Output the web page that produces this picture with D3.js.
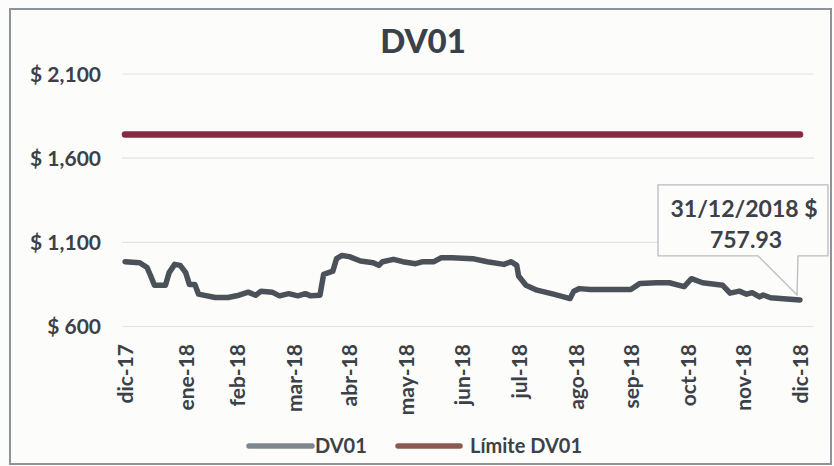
<!DOCTYPE html>
<html>
<head>
<meta charset="utf-8">
<script src="https://cdn.jsdelivr.net/npm/d3@7"></script>
<style>
  html, body { margin: 0; padding: 0; background: #fcfcfa; }
  svg { display: block; }
  text { font-family: Lato, "Open Sans", sans-serif; font-weight: bold; fill: #3b4148; }
</style>
</head>
<body>
<svg id="chart" width="834" height="466"></svg>
<script>
// ---------- data ----------
const dv01Dates = [
  "2017-12-29","2018-01-06","2018-01-10","2018-01-12","2018-01-14","2018-01-20","2018-01-22","2018-01-25","2018-01-28","2018-01-31",
  "2018-02-02","2018-02-05","2018-02-07","2018-02-16","2018-02-23","2018-03-01","2018-03-06","2018-03-10","2018-03-13","2018-03-19",
  "2018-03-23","2018-03-28","2018-04-02","2018-04-06","2018-04-09","2018-04-14","2018-04-16","2018-04-21","2018-04-23","2018-04-26",
  "2018-04-30","2018-05-06","2018-05-13","2018-05-16","2018-05-18","2018-05-24","2018-05-29","2018-06-05","2018-06-09","2018-06-15",
  "2018-06-19","2018-06-25","2018-07-06","2018-07-14","2018-07-23","2018-07-27","2018-07-30","2018-07-31","2018-08-04","2018-08-10",
  "2018-08-19","2018-08-28","2018-08-30","2018-09-02","2018-09-08","2018-09-19","2018-09-30","2018-10-05","2018-10-14","2018-10-21",
  "2018-10-29","2018-11-02","2018-11-08","2018-11-19","2018-11-23","2018-11-28","2018-12-02","2018-12-05","2018-12-09","2018-12-11",
  "2018-12-15","2018-12-22","2018-12-31"
];
const dv01Values = [
  985, 979, 950, 900, 845, 845, 920, 969, 963, 920,
  850, 850, 792, 772, 772, 786, 804, 786, 810, 804,
  782, 795, 782, 795, 782, 786, 910, 929, 1003, 1022,
  1015, 989, 979, 963, 985, 999, 985, 973, 985, 985,
  1009, 1009, 1003, 985, 969, 985, 963, 900, 845, 816,
  792, 766, 810, 825, 820, 820, 820, 856, 860, 860,
  837, 884, 860, 845, 798, 810, 792, 801, 776, 787,
  771, 765, 757.93
];
const limitDates = ["2017-12-29", "2018-12-31"];
const limitValues = [1740, 1740];

const yTicks = [600, 1100, 1600, 2100];
const xTickDates = ["2017-12-29","2018-01-31","2018-02-28","2018-03-31","2018-04-30","2018-05-31","2018-06-30",
                    "2018-07-31","2018-08-31","2018-09-30","2018-10-31","2018-11-30","2018-12-31"];
const xTickLabels = ["dic-17","ene-18","feb-18","mar-18","abr-18","may-18","jun-18",
                     "jul-18","ago-18","sep-18","oct-18","nov-18","dic-18"];
const seriesNames = ["DV01", "Límite DV01"];
const chartTitle = "DV01";
const calloutLines = ["31/12/2018 $", "757.93"];

// ---------- drawing ----------
const parse = d3.timeParse("%Y-%m-%d");
const svg = d3.select("#chart");

const x = d3.scaleTime()
  .domain([parse("2017-12-29"), parse("2018-12-31")])
  .range([125, 800]);
const y = d3.scaleLinear().domain([600, 2100]).range([326.5, 74]);

// frame
svg.append("rect").attr("x", 10).attr("y", 9).attr("width", 821).attr("height", 455)
  .attr("fill", "#fcfcfa").attr("stroke", "#8d9399").attr("stroke-width", 2);

// gridlines
svg.append("g").selectAll("line").data(yTicks).join("line")
  .attr("x1", 122).attr("x2", 814)
  .attr("y1", d => y(d)).attr("y2", d => y(d))
  .attr("stroke", "#e3e3e3").attr("stroke-width", 1.2);

// y axis
const yAxis = d3.axisLeft(y).tickValues(yTicks).tickSize(0).tickPadding(0)
  .tickFormat(d => "$ " + d3.format(",")(d));
const gy = svg.append("g").attr("transform", "translate(101,0)").call(yAxis);
gy.select(".domain").remove();
gy.selectAll("text").attr("font-size", 21).attr("dy", "0.35em")
  .style("font-family", "Lato, sans-serif").style("font-weight", "bold").attr("fill", "#353b41");

// x axis
const xAxis = d3.axisBottom(x).tickValues(xTickDates.map(parse)).tickSize(0)
  .tickFormat((d, i) => xTickLabels[i]);
const gx = svg.append("g").attr("transform", "translate(0,344)").call(xAxis);
gx.select(".domain").remove();
gx.selectAll("text")
  .attr("font-size", 21)
  .attr("transform", "rotate(-90)")
  .attr("text-anchor", "end")
  .attr("x", 0).attr("y", 0).attr("dx", 0).attr("dy", "0.36em")
  .style("font-family", "Lato, sans-serif").style("font-weight", "bold").attr("fill", "#353b41");

// lines
const line = d3.line().x(d => x(d.date)).y(d => y(d.value));
const limitData = limitDates.map((d, i) => ({date: parse(d), value: limitValues[i]}));
const dvData = dv01Dates.map((d, i) => ({date: parse(d), value: dv01Values[i]}));

svg.append("path").datum(limitData).attr("d", line)
  .attr("fill", "none").attr("stroke", "#862a42").attr("stroke-width", 6.5)
  .attr("stroke-linecap", "round");

svg.append("path").datum(dvData).attr("d", line)
  .attr("fill", "none").attr("stroke", "#4a5158").attr("stroke-width", 5.5)
  .attr("stroke-linejoin", "round").attr("stroke-linecap", "round");

// title
svg.append("text").attr("x", 423).attr("y", 53).attr("text-anchor", "middle")
  .attr("font-size", 33).style("font-weight", 900).attr("fill", "#2f353b").text(chartTitle);

// callout
const last = dvData[dvData.length - 1];
const px = x(last.date), py = y(last.value);
const bx0 = px - 142, bx1 = px + 28, by0 = py - 115, by1 = py - 44;
const tailL = px - 42, tailR = px - 2;
const callPath = `M${bx0},${by0} H${bx1} V${by1} H${tailR} L${px - 3},${py - 5} L${tailL},${by1} H${bx0} Z`;
svg.append("path").attr("d", callPath).attr("fill", "#fcfcfa")
  .attr("stroke", "#b8bcc0").attr("stroke-width", 1.3);
svg.append("text").attr("x", (bx0 + bx1) / 2 + 1).attr("y", by0 + 32).attr("text-anchor", "middle")
  .attr("font-size", 23).text(calloutLines[0]);
svg.append("text").attr("x", (bx0 + bx1) / 2 + 3).attr("y", by0 + 63).attr("text-anchor", "middle")
  .attr("font-size", 23).text(calloutLines[1]);

// legend
const legend = svg.append("g");
const legItems = [
  {name: seriesNames[0], color: "#7f868d", x1: 249, x2: 312, tx: 315},
  {name: seriesNames[1], color: "#8c5a52", x1: 398, x2: 460, tx: 470}
];
legItems.forEach(it => {
  legend.append("line").attr("x1", it.x1).attr("x2", it.x2).attr("y1", 446).attr("y2", 446)
    .attr("stroke", it.color).attr("stroke-width", 5.5).attr("stroke-linecap", "round");
  legend.append("text").attr("x", it.tx).attr("y", 453).attr("font-size", 20).text(it.name);
});
</script>
</body>
</html>
